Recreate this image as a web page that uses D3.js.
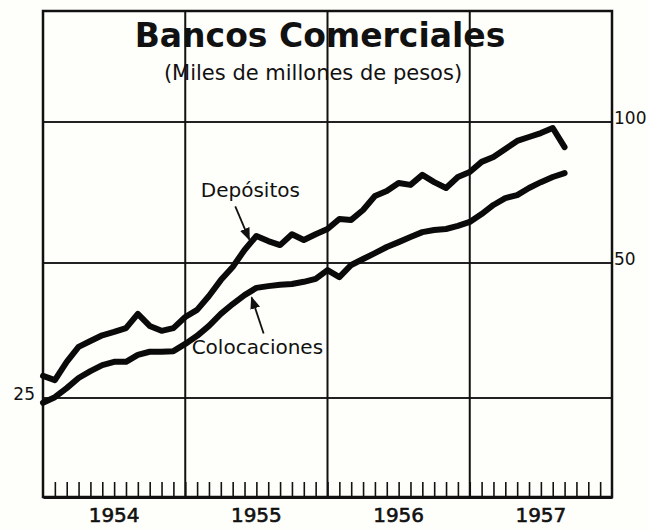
<!DOCTYPE html>
<html>
<head>
<meta charset="utf-8">
<script src="https://cdn.jsdelivr.net/npm/d3@7"></script>
<style>
  body { margin: 0; background: #fefefa; }
  svg { display: block; }
  text { font-family: "DejaVu Sans", sans-serif; fill: #111; }
</style>
</head>
<body>
<div id="chart"></div>
<script>
// monthly values, Jan 1954 .. Sep 1957 (miles de millones de pesos)
var years = ["1954", "1955", "1956", "1957"];
var yTicks = [25, 50, 100];
var depositos = [28.0, 27.4, 30.1, 32.5, 33.5, 34.5, 35.1, 35.8, 38.5, 36.2, 35.3, 35.8,
                 37.9, 39.3, 42.2, 45.8, 49.0, 53.3, 57.1, 55.7, 54.6, 57.6, 56.0, 57.6,
                 59.1, 62.1, 61.8, 64.9, 69.5, 71.2, 74.1, 73.4, 77.1, 74.4, 72.3, 76.3,
                 78.2, 82.2, 84.2, 87.6, 91.1, 92.9, 94.7, 97.1, 88.4];
var colocaciones = [24.4, 25.1, 26.3, 27.7, 28.7, 29.6, 30.1, 30.1, 31.2, 31.7, 31.7, 31.8,
                    33.0, 34.4, 36.2, 38.5, 40.5, 42.4, 44.0, 44.4, 44.7, 44.9, 45.4, 46.1,
                    48.2, 46.5, 49.5, 51.0, 52.5, 54.1, 55.4, 56.8, 58.2, 58.8, 59.1, 60.0,
                    61.2, 63.6, 66.5, 68.8, 69.8, 72.3, 74.4, 76.3, 77.8];

var W = 648, H = 530;
var margin = {top: 11, right: 36, bottom: 33, left: 43},
    width = W - margin.left - margin.right,
    height = H - margin.top - margin.bottom;

var svg = d3.select("#chart").append("svg")
    .attr("width", W)
    .attr("height", H);

var g = svg.append("g").attr("transform", "translate(" + margin.left + "," + margin.top + ")");

// x: months since Jan 1954
var x = d3.scaleLinear().domain([0, 48]).range([0, width]);
// ratio scale, drawn by hand so the doublings are not quite equal
var y = d3.scaleLog().domain([25, 50, 100]).range([387, 252, 111]);

// horizontal grid
g.selectAll(".hgrid")
    .data(yTicks)
    .enter().append("line")
    .attr("x1", 0).attr("x2", width)
    .attr("y1", d => y(d)).attr("y2", d => y(d))
    .attr("stroke", "#222").attr("stroke-width", 2);

// vertical grid at year boundaries
g.selectAll(".vgrid")
    .data([12, 24, 36])
    .enter().append("line")
    .attr("x1", d => x(d)).attr("x2", d => x(d))
    .attr("y1", 0).attr("y2", height)
    .attr("stroke", "#111").attr("stroke-width", 2);

// frame
g.append("rect")
    .attr("width", width).attr("height", height)
    .attr("fill", "none").attr("stroke", "#111").attr("stroke-width", 2.5);

// month ticks on the bottom
g.append("g")
    .attr("transform", "translate(0," + height + ")")
    .call(d3.axisBottom(x).tickValues(d3.range(1, 48)).tickSize(-15).tickSizeOuter(0).tickFormat(""))
    .call(a => a.select(".domain").attr("stroke", "#111").attr("stroke-width", 3))
    .call(a => a.selectAll(".tick line").attr("stroke", "#111").attr("stroke-width", 1.6));

// year labels
g.selectAll(".year")
    .data(years)
    .enter().append("text")
    .attr("x", (d, i) => x(i * 12 + 6))
    .attr("y", height + 25)
    .attr("text-anchor", "middle")
    .style("font-size", "20px")
    .style("stroke", "#111").style("stroke-width", 0.6)
    .text(d => d);

// y labels (100 and 50 on the right, 25 on the left)
g.selectAll(".ylab")
    .data(yTicks)
    .enter().append("text")
    .attr("x", d => d === 25 ? -8 : width + 2)
    .attr("y", d => y(d) + 2)
    .attr("text-anchor", d => d === 25 ? "end" : "start")
    .style("font-size", "17px")
    .text(d => d);

var line = d3.line()
    .x((d, i) => x(i))
    .y(d => y(d));

[depositos, colocaciones].forEach(function (s) {
    g.append("path")
        .datum(s)
        .attr("fill", "none")
        .attr("stroke", "#0a0a0a")
        .attr("stroke-width", 6)
        .attr("stroke-linejoin", "round")
        .attr("stroke-linecap", "round")
        .attr("d", line);
});

// title
svg.append("text")
    .attr("x", 320).attr("y", 47)
    .attr("text-anchor", "middle")
    .style("font-size", "33px")
    .style("font-weight", "bold")
    .text("Bancos Comerciales");
svg.append("text")
    .attr("x", 313).attr("y", 80)
    .attr("text-anchor", "middle")
    .style("font-size", "21px")
    .text("(Miles de millones  de pesos)");

// annotations with arrows
svg.append("defs").append("marker")
    .attr("id", "head")
    .attr("viewBox", "0 0 10 10")
    .attr("refX", 9).attr("refY", 5)
    .attr("markerWidth", 7).attr("markerHeight", 7)
    .attr("orient", "auto")
    .append("path").attr("d", "M0,1 L10,5 L0,9 z").attr("fill", "#111");

var depTip = [x(17.4), y(54.5) - 6];
g.append("text")
    .attr("x", x(18) - 6).attr("y", depTip[1] - 42)
    .attr("text-anchor", "middle")
    .style("font-size", "20px")
    .text("Depósitos");
g.append("line")
    .attr("x1", depTip[0] - 14).attr("y1", depTip[1] - 33)
    .attr("x2", depTip[0]).attr("y2", depTip[1])
    .attr("stroke", "#111").attr("stroke-width", 1.8)
    .attr("marker-end", "url(#head)");

var colTip = [x(17.6), y(43.2) + 6];
g.append("text")
    .attr("x", x(18) + 1).attr("y", colTip[1] + 57)
    .attr("text-anchor", "middle")
    .style("font-size", "20px")
    .text("Colocaciones");
g.append("line")
    .attr("x1", colTip[0] + 12).attr("y1", colTip[1] + 36)
    .attr("x2", colTip[0]).attr("y2", colTip[1])
    .attr("stroke", "#111").attr("stroke-width", 1.8)
    .attr("marker-end", "url(#head)");
</script>
</body>
</html>
